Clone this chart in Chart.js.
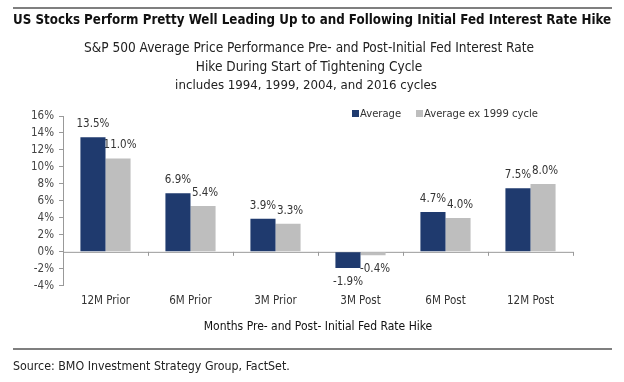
<!DOCTYPE html>
<html>
<head>
<meta charset="utf-8">
<script src="https://cdn.jsdelivr.net/npm/chart.js@4.4.1/dist/chart.umd.min.js"></script>
<style>
  html, body { margin: 0; padding: 0; background: #fff; }
</style>
</head>
<body>
<canvas id="barChart" width="624" height="382"></canvas>
<script>
const categories = ['12M Prior', '6M Prior', '3M Prior', '3M Post', '6M Post', '12M Post'];
const average = [13.5, 6.9, 3.9, -1.9, 4.7, 7.5];
const averageEx1999 = [11.0, 5.4, 3.3, -0.4, 4.0, 8.0];
const seriesNames = ['Average', 'Average ex 1999 cycle'];
const seriesColors = ['#1f3a6e', '#bebebe'];

const mainTitle = 'US Stocks Perform Pretty Well Leading Up to and Following Initial Fed Interest Rate Hike';
const subTitle = [
    'S&P 500 Average Price Performance Pre- and Post-Initial Fed Interest Rate',
    'Hike During Start of Tightening Cycle',
    'includes 1994, 1999, 2004, and 2016 cycles'
];
const xTitle = 'Months Pre- and Post- Initial Fed Rate Hike';
const sourceNote = 'Source: BMO Investment Strategy Group, FactSet.';

const FONT = '"DejaVu Sans Condensed", "Liberation Sans Narrow", sans-serif';
Chart.defaults.font.family = FONT;

const ctx = document.getElementById('barChart').getContext('2d');

// pick a font size so the text spans about the wanted width
function fitFont(c, text, weight, width) {
    c.font = weight + ' 20px ' + FONT;
    const size = 20 * width / c.measureText(text).width;
    c.font = weight + ' ' + size.toFixed(2) + 'px ' + FONT;
    return size;
}

const decor = {
    id: 'decor',
    beforeDatasetsDraw(chart) {
        const c = chart.ctx;
        const x = chart.scales.x;
        const y = chart.scales.y;
        const area = chart.chartArea;
        const zeroY = y.getPixelForValue(0);

        c.save();
        c.strokeStyle = '#999';
        c.lineWidth = 1;
        c.beginPath();
        c.moveTo(area.left, zeroY + 0.5);
        c.lineTo(area.right, zeroY + 0.5);
        for (let i = 0; i <= categories.length; i++) {
            const px = Math.round(x.getPixelForValue(i - 0.5)) + 0.5;
            c.moveTo(px, zeroY);
            c.lineTo(px, zeroY + 4);
        }
        c.stroke();

        c.fillStyle = '#333';
        c.font = '11.5px ' + FONT;
        c.textAlign = 'center';
        c.textBaseline = 'middle';
        chart.data.datasets.forEach((ds, i) => {
            const meta = chart.getDatasetMeta(i);
            meta.data.forEach((el, j) => {
                const v = ds.data[j];
                const ly = v >= 0 ? el.y - 13 : el.y + 14;
                c.fillText(v.toFixed(1) + '%', el.x + (i === 1 ? 2 : 0), ly);
            });
        });
        c.restore();
    },
    afterDraw(chart) {
        const c = chart.ctx;
        c.save();
        c.strokeStyle = '#555';
        c.lineWidth = 1.5;
        c.beginPath();
        c.moveTo(13, 8);
        c.lineTo(612, 8);
        c.moveTo(13, 349);
        c.lineTo(612, 349);
        c.stroke();

        c.fillStyle = '#111';
        c.textBaseline = 'middle';
        c.textAlign = 'left';
        fitFont(c, mainTitle, 'bold', 598);
        c.fillText(mainTitle, 13, 21);

        c.fillStyle = '#222';
        c.textAlign = 'center';
        fitFont(c, subTitle[0], 'normal', 450);
        c.fillText(subTitle[0], 309, 48);
        c.fillText(subTitle[1], 309, 67);
        fitFont(c, subTitle[2], 'normal', 262);
        c.fillText(subTitle[2], 306, 86);

        c.textAlign = 'left';
        c.fillStyle = '#222';
        fitFont(c, sourceNote, 'normal', 277);
        c.fillText(sourceNote, 13, 367);

        // legend
        fitFont(c, seriesNames[1], 'normal', 114);
        const starts = [352, 416];
        seriesNames.forEach((name, i) => {
            c.fillStyle = seriesColors[i];
            c.fillRect(starts[i], 110, 7, 7);
            c.fillStyle = '#333';
            c.fillText(name, starts[i] + 8, 114);
        });
        c.restore();
    }
};

new Chart(ctx, {
    type: 'bar',
    data: {
        labels: categories,
        datasets: [
            {
                label: seriesNames[0],
                data: average,
                backgroundColor: seriesColors[0],
                barPercentage: 1.0,
                categoryPercentage: 0.59
            },
            {
                label: seriesNames[1],
                data: averageEx1999,
                backgroundColor: seriesColors[1],
                barPercentage: 1.0,
                categoryPercentage: 0.59
            }
        ]
    },
    options: {
        responsive: false,
        animation: false,
        layout: {
            padding: { left: 13, right: 51, top: 116, bottom: 48 }
        },
        plugins: {
            legend: { display: false },
            tooltip: { enabled: false }
        },
        scales: {
            x: {
                grid: { display: false, drawTicks: false },
                border: { display: false },
                ticks: { color: '#333', font: { size: 11.5 }, padding: 8 },
                title: {
                    display: true,
                    text: xTitle,
                    color: '#111',
                    font: { size: 12, weight: 'normal' },
                    padding: { top: 4, bottom: 0 }
                }
            },
            y: {
                min: -4,
                max: 16,
                afterFit: (s) => { s.width = 50; },
                grid: { drawOnChartArea: false, tickLength: 4, tickColor: '#999' },
                border: { color: '#999' },
                ticks: {
                    stepSize: 2,
                    autoSkip: false,
                    color: '#444',
                    font: { size: 11.5 },
                    padding: 5,
                    callback: (v) => v + '%'
                }
            }
        }
    },
    plugins: [decor]
});
</script>
</body>
</html>
